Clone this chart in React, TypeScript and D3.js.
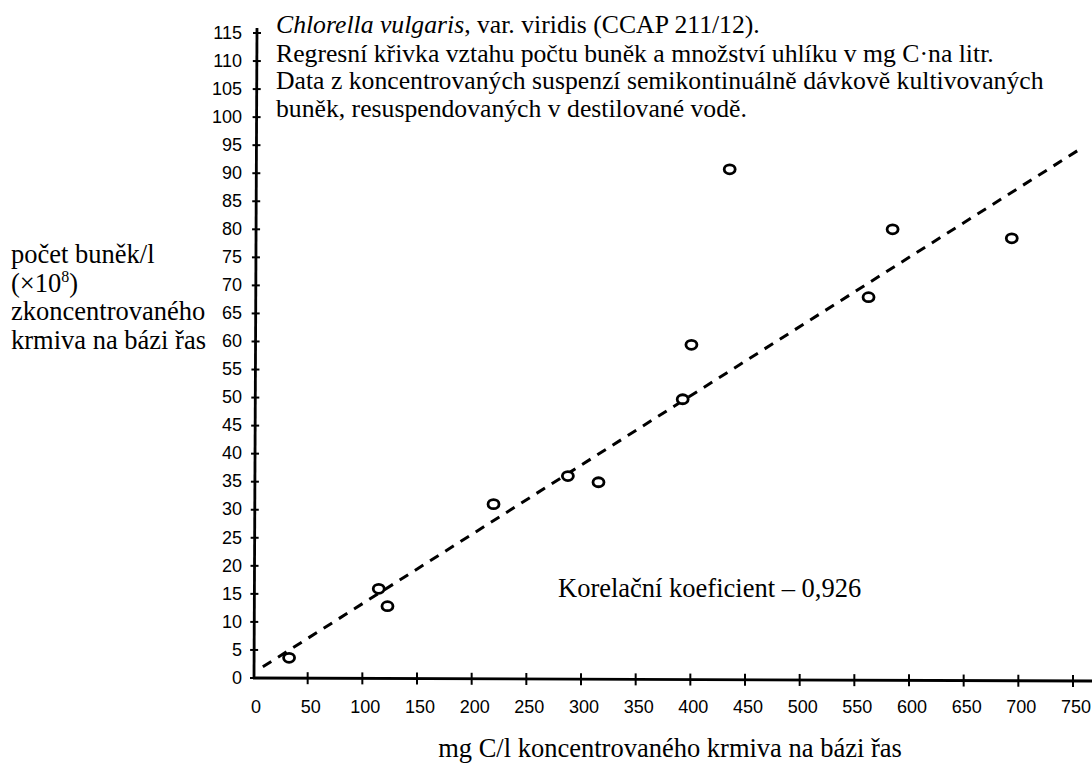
import React from "react";
import * as d3 from "d3";

const carbonMgC = [33, 115, 123, 220, 288, 316, 393, 401, 436, 563, 585, 694];
const cellCount = [3.6, 15.9, 12.8, 31.0, 36.0, 34.9, 49.7, 59.4, 90.7, 67.9, 80.0, 78.4];
const regressionX = [9, 758];
const regressionY = [2.0, 94.5];
const xTickValues = [0, 50, 100, 150, 200, 250, 300, 350, 400, 450, 500, 550, 600, 650, 700, 750];
const yTickValues = [0, 5, 10, 15, 20, 25, 30, 35, 40, 45, 50, 55, 60, 65, 70, 75, 80, 85, 90, 95, 100, 105, 110, 115];
const titleLines = [
  "Regresní křivka vztahu počtu buněk a množství uhlíku v mg C·na litr.",
  "Data z koncentrovaných suspenzí semikontinuálně dávkově kultivovaných",
  "buněk, resuspendovaných v destilované vodě.",
];
const yTitleLines = ["počet buněk/l", "(×10", "zkoncentrovaného", "krmiva na bázi řas"];
const xTitle = "mg C/l koncentrovaného krmiva na bázi řas";
const corrText = "Korelační koeficient – 0,926";

const W = 1092;
const H = 764;
const serif = "'Liberation Serif', 'Times New Roman', serif";
const sans = "'Liberation Sans', Arial, sans-serif";

export default function App() {
  const x = d3.scaleLinear().domain([0, 750]).range([253, 1073]);
  const y = d3.scaleLinear().domain([0, 115]).range([678, 33]);
  const axisX = x(0) + 1;
  const line = d3
    .line<number>()
    .x((d) => x(d))
    .y((_, i) => y(regressionY[i]));

  return (
    <svg
      width={W}
      height={H}
      style={{ position: "absolute", left: 0, top: 0, background: "#fff" }}
      xmlns="http://www.w3.org/2000/svg"
    >
      <rect x={0} y={0} width={W} height={H} fill="#fff" />
      {/* title */}
      <text x={276} y={33} fontFamily={serif} fontSize={25.7} fill="#000">
        <tspan fontStyle="italic">Chlorella vulgaris</tspan>
        <tspan>, var. viridis (CCAP 211/12).</tspan>
      </text>
      {titleLines.map((t, i) => (
        <text key={t} x={276} y={61.5 + i * 27.5} fontFamily={serif} fontSize={25.7} fill="#000">
          {t}
        </text>
      ))}
      {/* y title */}
      {yTitleLines.map((t, i) => (
        <text key={t} x={11} y={263 + i * 28.5} fontFamily={serif} fontSize={26.5} fill="#000">
          {t}
          {i === 1 ? (
            <>
              <tspan dy={-10} fontSize={16}>8</tspan>
              <tspan dy={10}>)</tspan>
            </>
          ) : null}
        </text>
      ))}
      {/* axes */}
      <line x1={axisX} y1={y(0) + 1} x2={axisX + 3} y2={28} stroke="#000" strokeWidth={2.8} />
      <line x1={x(0)} y1={y(0)} x2={W} y2={y(0) + 3} stroke="#000" strokeWidth={2.8} />
      {yTickValues.map((v) => {
        const ax = axisX + ((y(0) - y(v)) / (y(0) - 28)) * 3;
        return (
          <g key={"y" + v}>
            <line x1={ax - 4} x2={ax + 4} y1={y(v)} y2={y(v)} stroke="#000" strokeWidth={2} />
            <text
              x={242}
              y={y(v) + 1}
              textAnchor="end"
              dominantBaseline="middle"
              fontFamily={sans}
              fontSize={18}
              fill="#000"
            >
              {v}
            </text>
          </g>
        );
      })}
      {xTickValues.map((v) => {
        const ay = y(0) + ((x(v) - x(0)) / (W - x(0))) * 3;
        return (
          <g key={"x" + v}>
            {v > 0 ? (
              <line x1={x(v)} x2={x(v)} y1={ay - 6} y2={ay + 6} stroke="#000" strokeWidth={2} />
            ) : null}
            <text
              x={x(v) + 3}
              y={708}
              textAnchor="middle"
              dominantBaseline="middle"
              fontFamily={sans}
              fontSize={18}
              fill="#000"
            >
              {v}
            </text>
          </g>
        );
      })}
      {/* regression */}
      <path
        d={line(regressionX) || ""}
        fill="none"
        stroke="#000"
        strokeWidth={3}
        strokeDasharray="10 8"
      />
      {/* points */}
      {carbonMgC.map((c, i) => (
        <ellipse
          key={"p" + i}
          cx={x(c)}
          cy={y(cellCount[i])}
          rx={5.5}
          ry={4.5}
          fill="#fff"
          stroke="#000"
          strokeWidth={2.8}
        />
      ))}
      <text x={558} y={597} fontFamily={serif} fontSize={26.5} fill="#000">
        {corrText}
      </text>
      <text x={670} y={757} textAnchor="middle" fontFamily={serif} fontSize={26.5} fill="#000">
        {xTitle}
      </text>
    </svg>
  );
}
